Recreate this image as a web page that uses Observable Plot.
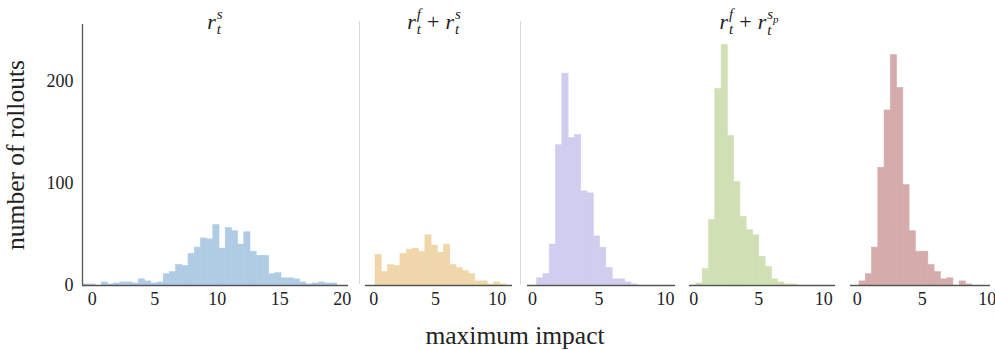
<!DOCTYPE html>
<html>
<head>
<meta charset="utf-8">
<script src="https://cdn.jsdelivr.net/npm/d3@7"></script>
<script src="https://cdn.jsdelivr.net/npm/@observablehq/plot@0.6"></script>
<style>
  html, body { margin: 0; padding: 0; background: #fff; }
  #root { position: relative; width: 995px; height: 350px; overflow: hidden; font-family: "Liberation Serif", "DejaVu Serif", serif; color: #222; }
  .panel { position: absolute; top: 0; }
  .sep { position: absolute; width: 0; border-left: 1.3px solid #d9d9d9; top: 21px; height: 263px; }
  .title { position: absolute; top: 4px; height: 36px; font-size: 22px; line-height: 36px; white-space: nowrap; transform: translateX(-50%); }
  .title i { font-style: italic; }
  .scr { display: inline-flex; flex-direction: column; line-height: 15px; font-size: 15px; font-style: italic; vertical-align: 10px; margin-left: 1px; }
  .scr .p { font-size: 11px; position: relative; top: 4px; }
  .plus { margin: 0 6px; }
  .ylab { position: absolute; left: 16px; top: 155px; font-size: 25.5px; line-height: 28px; transform: translate(-50%, -50%) rotate(-90deg); white-space: nowrap; }
  .xlab { position: absolute; left: 515px; top: 322px; font-size: 25.5px; line-height: 27px; transform: translateX(-50%); white-space: nowrap; }
</style>
</head>
<body>
<div id="root">
  <div class="sep" style="left:359px"></div>
  <div class="sep" style="left:520px"></div>
  <div class="title" style="left:215px"><i>r</i><span class="scr"><span>s</span><span>t</span></span></div>
  <div class="title" style="left:434px"><i>r</i><span class="scr"><span>f</span><span>t</span></span><span class="plus">+</span><i>r</i><span class="scr"><span>s</span><span>t</span></span></div>
  <div class="title" style="left:749px"><i>r</i><span class="scr"><span>f</span><span>t</span></span><span class="plus">+</span><i>r</i><span class="scr"><span>s<span class="p">p</span></span><span>t</span></span></div>
  <div class="ylab">number of rollouts</div>
  <div class="xlab">maximum impact</div>
</div>
<script>
// Histogram counts, one array per panel
const countsRs      = [1,1,0,3,1,2,3,3,2,6,4,2,3,11,13,20,19,31,37,46,45,59,36,56,53,40,52,33,29,29,11,12,7,7,6,3,1,2,3,2,2];
const countsRfRs    = [30,13,20,19,31,35,36,33,49,39,32,40,20,17,14,11,4,4,1,3,1,0];
const countsRfRsp1  = [7,11,40,137,207,144,147,92,90,48,37,17,6,6,3,1];
const countsRfRsp2  = [2,16,64,192,235,146,101,67,54,49,28,18,6,3,1,1];
const countsRfRsp3  = [4,11,37,115,171,225,193,98,53,33,33,20,13,6,7,0,4,1];
// Bin edges (first edge and uniform bin width) per panel
const binStarts = [-0.72, 0.14, 0.35, 0.20, 0.18];
const binWidths = [0.4956, 0.505, 0.473, 0.484, 0.481];
const xTicks = [[0, 5, 10, 15, 20], [0, 5, 10], [0, 5, 10], [0, 5, 10], [0, 5, 10]];
const yTicks = [0, 100, 200];
const colors = ["#b0cce4", "#f0d7ab", "#d0cdee", "#d1e0b4", "#d6abab"];

const allCounts = [countsRs, countsRfRs, countsRfRsp1, countsRfRsp2, countsRfRsp3];

// layout (pixels) for each panel: svg left, frame left/right, x domain
const layout = [
  {left: 0,   ml: 82, fw: 266, mr: 12, dom: [-0.776, 20.5], yaxis: true},
  {left: 360, ml: 5,  fw: 147, mr: 5,  dom: [-0.67, 11.24]},
  {left: 521, ml: 6,  fw: 148, mr: 6,  dom: [-0.376, 10.75]},
  {left: 683, ml: 6,  fw: 146, mr: 6,  dom: [-0.33, 10.9]},
  {left: 844, ml: 6,  fw: 140, mr: 5,  dom: [-0.515, 10.25]}
];

const root = document.getElementById("root");
allCounts.forEach((counts, k) => {
  const L = layout[k];
  const bins = counts.map((c, i) => ({
    x1: binStarts[k] + i * binWidths[k],
    x2: binStarts[k] + (i + 1) * binWidths[k],
    count: c
  })).filter(d => d.count > 0);
  const marks = [
    Plot.rectY(bins, {x1: "x1", x2: "x2", y: "count", fill: colors[k], stroke: colors[k], strokeWidth: 0.6, inset: 0}),
    Plot.ruleY([0], {stroke: "#555", strokeWidth: 1.3}),
    Plot.axisX({ticks: xTicks[k], tickSize: 0, tickPadding: 7, fontSize: 18, label: null, tickFormat: d => String(d)})
  ];
  if (L.yaxis) {
    marks.push(Plot.ruleX([L.dom[0]], {stroke: "#555", strokeWidth: 1.3}));
    marks.push(Plot.axisY({ticks: yTicks, tickSize: 0, tickPadding: 9, fontSize: 18, label: null}));
  }
  const chart = Plot.plot({
    width: L.ml + L.fw + L.mr,
    height: 312,
    marginTop: 24,
    marginBottom: 27,
    marginLeft: L.ml,
    marginRight: L.mr,
    style: {background: "transparent", fontFamily: "'Liberation Serif', 'DejaVu Serif', serif", color: "#222", overflow: "visible"},
    x: {domain: L.dom},
    y: {domain: [0, 255], axis: null},
    marks
  });
  chart.classList.add("panel");
  chart.style.left = L.left + "px";
  root.appendChild(chart);
});
</script>
</body>
</html>
